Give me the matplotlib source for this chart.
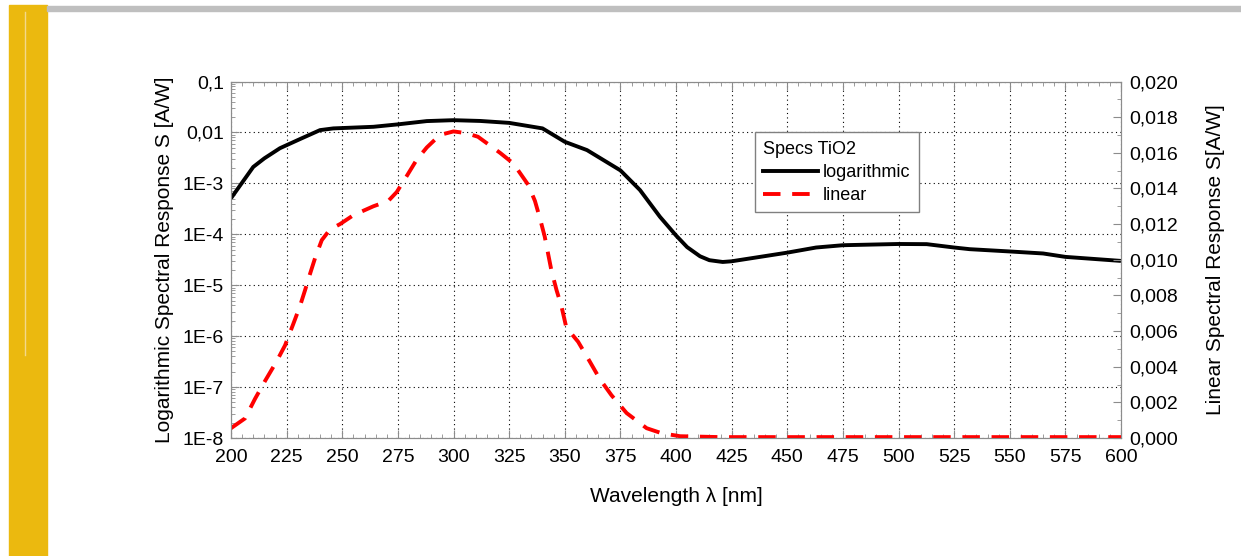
"""
Spectral response of a TiO2 photodiode: logarithmic (left) and linear (right) scales.
"""

import matplotlib.pyplot as plt
from matplotlib.patches import Rectangle
from matplotlib.lines import Line2D
from matplotlib.ticker import FixedLocator, MultipleLocator, FuncFormatter

plt.rcParams['font.family'] = ['Liberation Sans', 'DejaVu Sans']

# black curve, left (log) axis
wl_log = [200, 210, 215, 222, 231, 240, 246, 264, 275, 288, 300, 312, 325, 340,
          350, 360, 375, 383.8, 388, 392.8, 400, 405, 410.8, 415, 421, 425, 450,
          463, 475, 500, 512.7, 525, 532, 550, 565, 575, 600]
s_log = [5.1e-4, 2.1e-3, 3.1e-3, 4.9e-3, 7.4e-3, 1.11e-2, 1.2e-2, 1.29e-2, 1.44e-2,
         1.67e-2, 1.74e-2, 1.68e-2, 1.54e-2, 1.2e-2, 6.55e-3, 4.5e-3, 1.8e-3, 7.4e-4,
         4.2e-4, 2.2e-4, 9.5e-5, 5.6e-5, 3.7e-5, 3.1e-5, 2.86e-5, 2.95e-5, 4.36e-5,
         5.5e-5, 6.1e-5, 6.45e-5, 6.4e-5, 5.5e-5, 5.1e-5, 4.6e-5, 4.2e-5, 3.6e-5, 3.0e-5]

# red dashed curve, right (linear) axis
wl_lin = [200, 206.3, 210.8, 215.3, 220.5, 224.3, 228, 231, 233.3, 235.5, 237.8,
          240.8, 244.5, 249, 255, 264, 270.7, 274.5, 279, 283.4, 288, 293.9, 300,
          305.8, 311, 320.9, 326.9, 333.6, 336.6, 338.9, 341, 344, 346.3, 348.5,
          350.7, 356, 361.2, 365.8, 371, 377.8, 386.8, 393.5, 401.8, 420, 450,
          500, 550, 600]
s_lin = [0.00055, 0.0011, 0.0022, 0.0032, 0.0043, 0.0052, 0.0064, 0.0074, 0.0083,
         0.0092, 0.0101, 0.0111, 0.0117, 0.0120, 0.0125, 0.0130, 0.0133, 0.0138,
         0.0147, 0.0156, 0.0163, 0.0170, 0.0172, 0.0171, 0.0169, 0.0160, 0.0154,
         0.0142, 0.0133, 0.0123, 0.0113, 0.0094, 0.0083, 0.0074, 0.0062, 0.0054,
         0.0043, 0.0033, 0.0024, 0.0014, 0.00055, 0.00027, 0.0001, 0.00005,
         0.00005, 0.00005, 0.00005, 0.00005]

x_ticks = list(range(200, 601, 25))
log_ticks = [1e-8, 1e-7, 1e-6, 1e-5, 1e-4, 1e-3, 1e-2, 1e-1]
log_labels = ['1E-8', '1E-7', '1E-6', '1E-5', '1E-4', '1E-3', '0,01', '0,1']

fig = plt.figure(figsize=(12.41, 5.56), dpi=100)

# page decoration: yellow side bar and grey top rule
fig.patches.append(Rectangle((9 / 1241, 0), 38 / 1241, 1 - 5 / 556,
                             transform=fig.transFigure, color='#ebb90f', zorder=0))
fig.lines.append(Line2D([24.5 / 1241, 24.5 / 1241], [1 - 12 / 556, 1 - 355 / 556],
                        transform=fig.transFigure, color='#f3d88c', lw=1))
fig.patches.append(Rectangle((47 / 1241, 1 - 11 / 556), 1 - 47 / 1241, 5 / 556,
                             transform=fig.transFigure, color='#bfbfbf', zorder=0))

ax = fig.add_axes([231 / 1241, 1 - 438 / 556, 890 / 1241, 356.5 / 556])
ax2 = ax.twinx()

ax.plot(wl_log, s_log, color='black', lw=2.8, solid_capstyle='butt')
ax2.plot(wl_lin, s_lin, color='#ff0000', lw=2.8, dashes=(4.5, 3), dash_capstyle='butt')

ax.set_xlim(200, 600)
ax.set_yscale('log')
ax.set_ylim(1e-8, 1e-1)
ax2.set_ylim(0, 0.020)

ax.xaxis.set_major_locator(FixedLocator(x_ticks))
ax.xaxis.set_minor_locator(MultipleLocator(5))
ax.yaxis.set_major_locator(FixedLocator(log_ticks))
ax.set_yticklabels(log_labels)
ax2.yaxis.set_major_locator(MultipleLocator(0.002))
ax2.yaxis.set_minor_locator(MultipleLocator(0.001))
ax2.yaxis.set_major_formatter(FuncFormatter(lambda v, p: f'{v:.3f}'.replace('.', ',')))

ax.grid(True, which='major', color='black', linestyle=(0, (1, 3)), lw=0.8)

for a in (ax, ax2):
    for sp in a.spines.values():
        sp.set_color('#8c8c8c')
    a.tick_params(which='both', direction='in', color='#8c8c8c', labelsize=14)
    a.tick_params(which='major', length=6)
    a.tick_params(which='minor', length=3)
ax.tick_params(which='both', top=True, right=False)
ax.tick_params(axis='x', pad=8)
ax.tick_params(axis='y', pad=5)
ax2.tick_params(axis='y', pad=6)

ax.set_xlabel('Wavelength λ [nm]', fontsize=15, labelpad=15)
ax.set_ylabel('Logarithmic Spectral Response S [A/W]', fontsize=15, labelpad=6)
ax2.set_ylabel('Linear Spectral Response S[A/W]', fontsize=15, labelpad=20)

handles = [Line2D([], [], color='black', lw=2.8),
           Line2D([], [], color='#ff0000', lw=2.8, dashes=(4.5, 3))]
leg = ax.legend(handles, ['logarithmic', 'linear'], title='Specs TiO2',
                loc='upper left', bbox_to_anchor=(0.589, 0.857), fontsize=13,
                title_fontsize=13, frameon=True, fancybox=False, edgecolor='#808080',
                framealpha=1, handlelength=3.0, handletextpad=0.3, borderpad=0.45,
                labelspacing=0.35, borderaxespad=0)
leg._legend_box.align = 'left'
leg.get_frame().set_linewidth(1)
leg.set_zorder(10)

fig.savefig('out.png', dpi=100)
